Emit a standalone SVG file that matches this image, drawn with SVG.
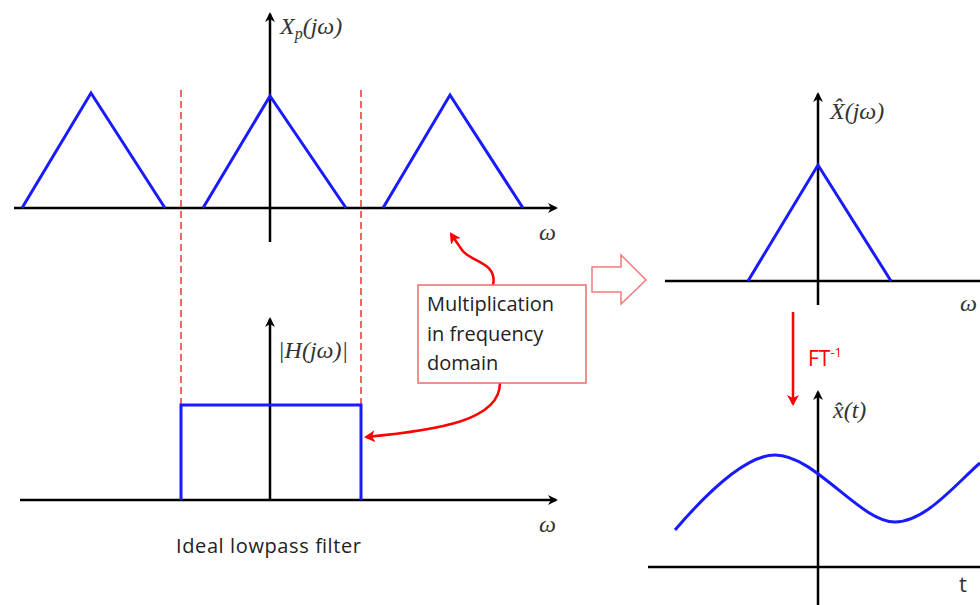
<svg xmlns="http://www.w3.org/2000/svg" width="980" height="605" viewBox="0 0 980 605">
<defs>
<marker id="ah" markerWidth="10" markerHeight="10" refX="8" refY="5" orient="auto" markerUnits="userSpaceOnUse"><path d="M0,0 L10,5 L0,10 L3,5 Z" fill="#000"/></marker>
<marker id="rh" markerWidth="12" markerHeight="12" refX="9" refY="6" orient="auto" markerUnits="userSpaceOnUse"><path d="M0,0 L11,6 L0,12 L3,6 Z" fill="#f00"/></marker>
</defs>
<style>
.ax{stroke:#000;stroke-width:2.5;fill:none}
.sig{stroke:#1a1aff;stroke-width:3;fill:none;stroke-linejoin:miter}
.dash{stroke:#f04040;stroke-width:1.6;stroke-dasharray:7,4;fill:none}
.math{font-family:"Liberation Serif",serif;font-style:italic;font-size:24px;fill:#333}
.lbl{font-family:"Open Sans","Liberation Sans",sans-serif;font-size:20px;fill:#222}
.red{stroke:#f00;stroke-width:2.5;fill:none}
</style>
<g id="plot-xp">
<line class="ax" x1="14" y1="208" x2="556" y2="208" marker-end="url(#ah)"/>
<line class="ax" x1="270" y1="242" x2="270" y2="14" marker-end="url(#ah)"/>
<polyline class="sig" points="22,208 91,93 165,208"/>
<polyline class="sig" points="203,208 270,96 346,208"/>
<polyline class="sig" points="383,208 450,95 523,208"/>
<text class="math" x="280" y="34">X<tspan font-size="16" dy="5">p</tspan><tspan dy="-5">(jω)</tspan></text>
<text class="math" x="539" y="240">ω</text>
</g>
<g id="cutoffs">
<line class="dash" x1="181" y1="90" x2="181" y2="500"/>
<line class="dash" x1="361" y1="90" x2="361" y2="500"/>
</g>
<g id="plot-h">
<line class="ax" x1="20" y1="500" x2="556" y2="500" marker-end="url(#ah)"/>
<line class="ax" x1="270" y1="500" x2="270" y2="319" marker-end="url(#ah)"/>
<polyline class="sig" points="181,500 181,405 361,405 361,500"/>
<text class="math" x="278" y="358">|H(jω)|</text>
<text class="math" x="539" y="532">ω</text>
<text class="lbl" x="176" y="553" font-size="20" textLength="185">Ideal lowpass filter</text>
</g>
<g id="connectors">
<path class="red" d="M493,285 C498,262 470,262 462,250 C458,244 455,240 451,234" marker-end="url(#rh)"/>
<path class="red" d="M500,383 C500,420 440,430 366,437" marker-end="url(#rh)"/>
<line class="red" x1="793" y1="312" x2="793" y2="404" marker-end="url(#rh)"/>
</g>
<g id="mult-box">
<rect x="418" y="285" width="168" height="98" fill="#fff" stroke="#f26b6b" stroke-width="1.5"/>
<text class="lbl" x="427" y="311">Multiplication</text>
<text class="lbl" x="427" y="341">in frequency</text>
<text class="lbl" x="427" y="370">domain</text>
</g>
<g id="hollow-arrow">
<path d="M592,267 L621,267 L621,255 L646,280 L621,304 L621,292 L592,292 Z" fill="#fff" stroke="#f37a7a" stroke-width="1.5"/>
</g>
<g id="plot-xhat">
<line class="ax" x1="665" y1="281" x2="985" y2="281"/>
<line class="ax" x1="818" y1="305" x2="818" y2="94" marker-end="url(#ah)"/>
<polyline class="sig" points="748,281 818,165 891,281"/>
<text class="math" x="830" y="119">X̂(jω)</text>
<text class="math" x="960" y="311">ω</text>
</g>
<g id="ft-label">
<text x="808" y="366" font-family="Open Sans, Liberation Sans, sans-serif" font-size="21" fill="#f00">FT<tspan font-size="13" dy="-9">-1</tspan></text>
</g>
<g id="plot-xt">
<line class="ax" x1="648" y1="567" x2="985" y2="567"/>
<line class="ax" x1="818" y1="605" x2="818" y2="392" marker-end="url(#ah)"/>
<path class="sig" d="M675,530 C705,495 745,455 775,455 C815,455 860,522 895,522 C925,522 955,485 980,463"/>
<text class="math" x="833" y="418">x̂(t)</text>
<text x="959" y="592" font-family="Open Sans, Liberation Sans, sans-serif" font-size="22" fill="#333">t</text>
</g>
</svg>
